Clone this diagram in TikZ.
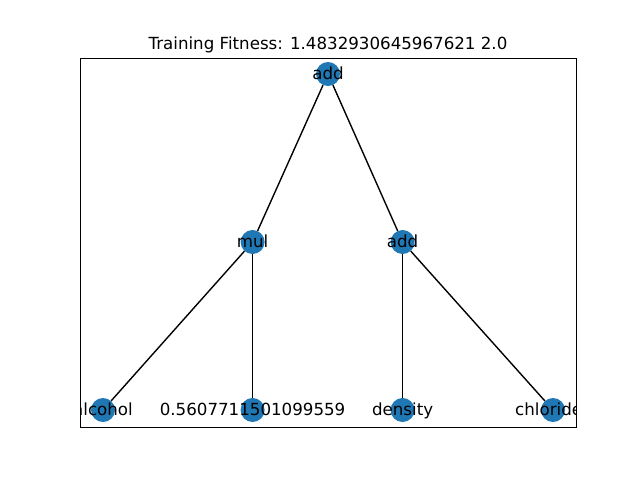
\documentclass[tikz,border=0pt]{standalone}
\usepackage{fontspec}
\setmainfont{DejaVu Sans}
\definecolor{tabblue}{HTML}{1F77B4}

\begin{document}
\begin{tikzpicture}[x=1pt,y=-1pt,
        dot/.style={circle, fill=tabblue, minimum size=24pt, inner sep=0pt},
        lbl/.style={font=\fontsize{16.67}{20}\selectfont, inner sep=0pt,
            text height=12.4pt, text depth=3.6pt, yshift=-1.5pt},
        link/.style={line width=1.39pt}]

        \useasboundingbox (0,0) rectangle (640,480);

        % tree nodes
        \node[dot] (root) at (328, 74) {}; \node[dot] (mul) at (252.6, 242) {};
        \node[dot] (add) at (402.6, 242) {}; \node[dot] (alcohol) at (103, 410) {};
        \node[dot] (const) at (252.6, 410) {}; \node[dot] (density) at (402.6, 410) {};
        \node[dot] (chlorides) at (553, 410) {};

        \draw[link] (root) -- (mul); \draw[link] (root) -- (add);
        \draw[link] (mul) -- (alcohol); \draw[link] (mul) -- (const);
        \draw[link] (add) -- (density); \draw[link] (add) -- (chlorides);

        % labels, cut at the frame
        \begin{scope}
        \clip (80.5, 58.5) rectangle (576.5, 427.5);
        \node[lbl] (troot) at (root) {add}; \node[lbl] (tmul) at (mul) {mul};
        \node[lbl] (tadd) at (add) {add}; \node[lbl] (talcohol) at (alcohol)
        {alcohol}; \node[lbl] (tconst) at (const) {0.5607711501099559};
        \node[lbl] (tdensity) at (density) {density}; \node[lbl] (tchlorides)
        at (chlorides) {chlorides};
        \end{scope}

        \draw[line width=1.11pt] (80.5, 58.5) rectangle (576.5, 427.5);

        \node[lbl] (title) at (328, 44) {Training Fitness: 1.4832930645967621 2.0};
    \end{tikzpicture}
\end{document}
